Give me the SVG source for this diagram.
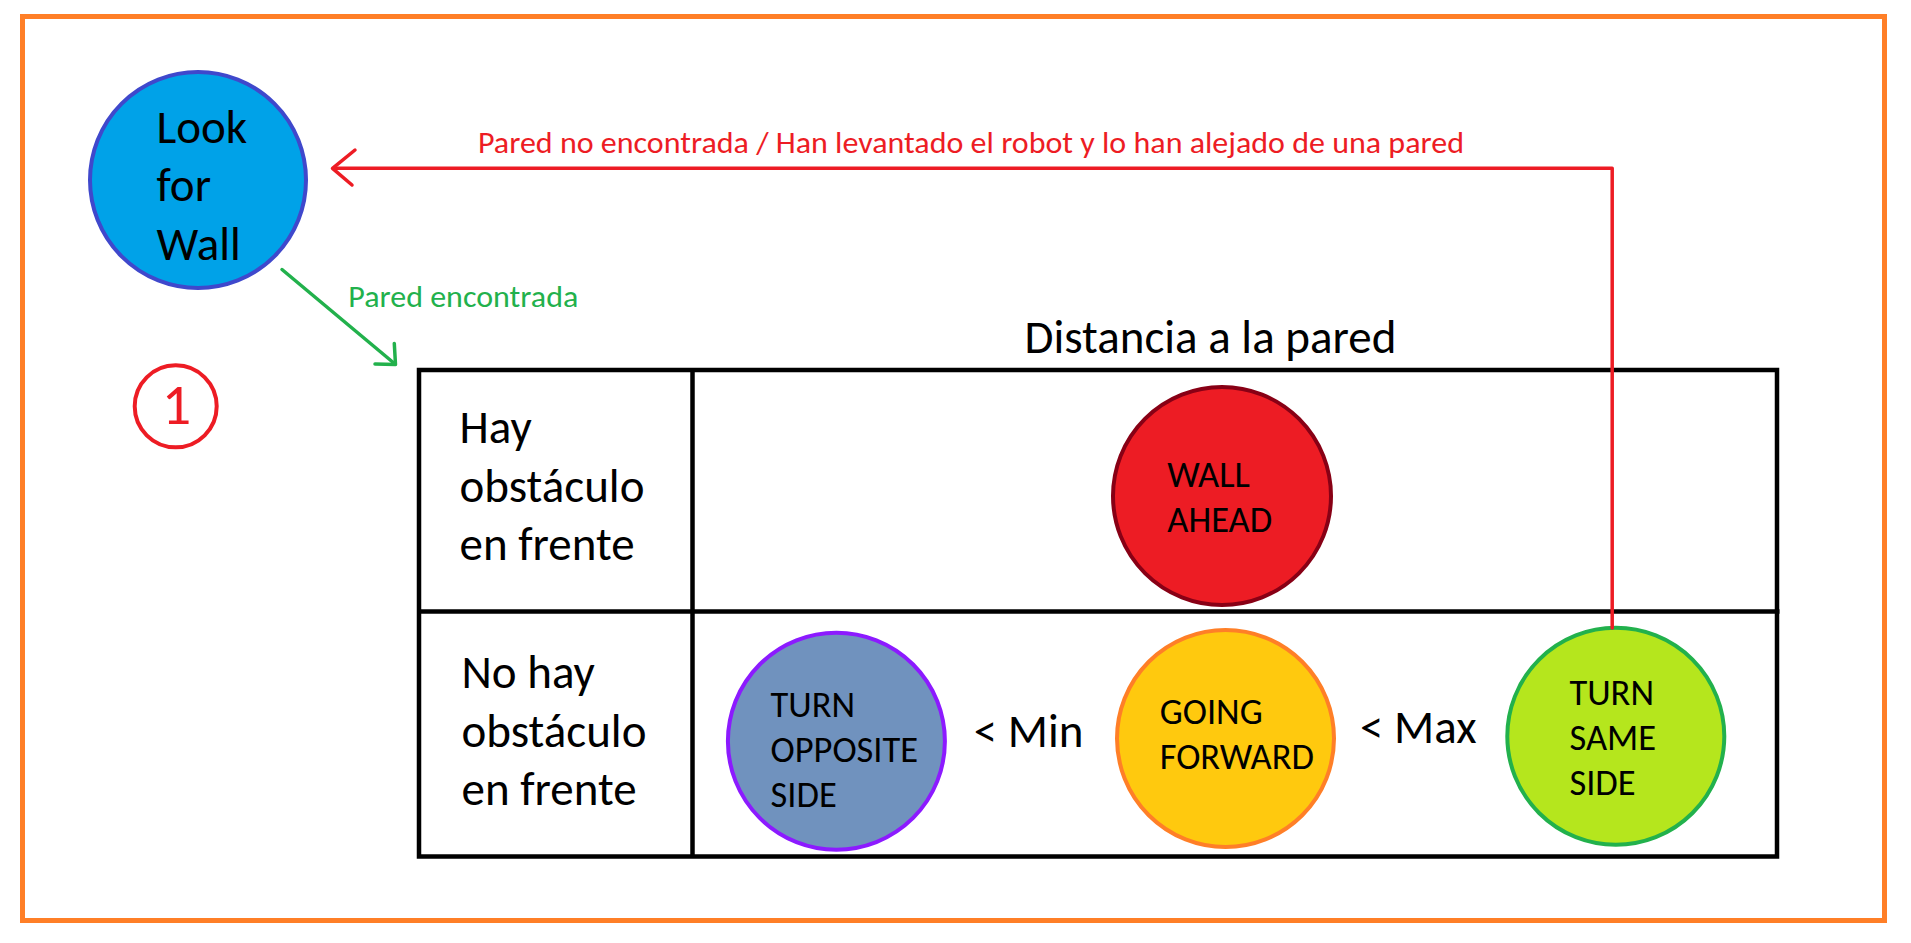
<svg xmlns="http://www.w3.org/2000/svg" width="1911" height="943" viewBox="0 0 1911 943">
<style>
  text { font-family: Carlito, Lato, "Open Sans", sans-serif; fill: #000; }
  .big { font-size: 47px; }
  .node { font-size: 36.5px; }
  .lbl { font-size: 30px; }
  .tbl { fill: none; stroke: #000; stroke-width: 4.5; }
  .circ { stroke-width: 4; }
</style>
<rect x="0" y="0" width="1911" height="943" fill="#fff"/>
<rect id="frame" x="22.5" y="16.5" width="1862" height="904" fill="none" stroke="#FF7F27" stroke-width="5"/>

<g id="table">
  <rect class="tbl" x="419" y="370" width="1358" height="486.5"/>
  <line class="tbl" x1="692.5" y1="370" x2="692.5" y2="856.5"/>
  <line class="tbl" x1="419" y1="611.5" x2="1779.5" y2="611.5"/>
  <text class="big" x="1024.5" y="352.5">Distancia a la pared</text>
  <text class="big" x="459.5" y="443.3">Hay</text>
  <text class="big" x="459.5" y="501.7">obstáculo</text>
  <text class="big" x="459.5" y="560">en frente</text>
  <text class="big" x="461.5" y="688.3">No hay</text>
  <text class="big" x="461.5" y="746.7">obstáculo</text>
  <text class="big" x="461.5" y="805">en frente</text>
  <text class="big" x="973.7" y="746.7">&lt; Min</text>
  <text class="big" x="1360" y="743.3">&lt; Max</text>
</g>

<g id="look-for-wall">
  <circle class="circ" cx="198" cy="180" r="108" fill="#00A2E8" stroke="#3F48CC"/>
  <text class="big" x="156.5" y="142.7">Look</text>
  <text class="big" x="156.5" y="200.7">for</text>
  <text class="big" x="156.5" y="260">Wall</text>
</g>

<g id="step-number">
  <circle cx="175.7" cy="406.3" r="41" fill="none" stroke="#ED1C24" stroke-width="4"/>
  <text x="176.5" y="424" text-anchor="middle" style="font-size:58px; fill:#ED1C24">1</text>
</g>

<g id="wall-ahead">
  <circle class="circ" cx="1222" cy="496" r="109" fill="#ED1C24" stroke="#880015"/>
  <text class="node" x="1167.3" y="487.3">WALL</text>
  <text class="node" x="1167.3" y="532.3">AHEAD</text>
</g>

<g id="turn-opposite-side">
  <circle class="circ" cx="836.4" cy="741.2" r="108.5" fill="#7092BE" stroke="#8C1AFF"/>
  <text class="node" x="770.5" y="716.7">TURN</text>
  <text class="node" x="770.5" y="761.7">OPPOSITE</text>
  <text class="node" x="770.5" y="806.7">SIDE</text>
</g>

<g id="going-forward">
  <circle class="circ" cx="1225.5" cy="738.5" r="108.5" fill="#FFC90E" stroke="#FF7F27"/>
  <text class="node" x="1159.7" y="724">GOING</text>
  <text class="node" x="1159.7" y="769.3">FORWARD</text>
</g>

<g id="turn-same-side">
  <circle class="circ" cx="1615.8" cy="736.3" r="108.5" fill="#B5E61D" stroke="#22B14C"/>
  <text class="node" x="1569.4" y="705">TURN</text>
  <text class="node" x="1569.4" y="750">SAME</text>
  <text class="node" x="1569.4" y="795">SIDE</text>
</g>

<g id="connectors" fill="none" stroke-linecap="round" stroke-linejoin="round">
  <path d="M1612.2,628 V168.3 H334" stroke="#ED1C24" stroke-width="3.5"/>
  <polyline points="355,150 332.5,168.3 352,185" stroke="#ED1C24" stroke-width="3.5"/>
  <line x1="282" y1="269.5" x2="395" y2="364" stroke="#22B14C" stroke-width="3.5"/>
  <polyline points="394.3,343.5 395.5,364.5 375,364" stroke="#22B14C" stroke-width="3.5"/>
  <text class="lbl" x="478" y="152.7" textLength="986" lengthAdjust="spacingAndGlyphs" style="fill:#ED1C24; stroke:none">Pared no encontrada / Han levantado el robot y lo han alejado de una pared</text>
  <text class="lbl" x="348.3" y="306.7" textLength="230" lengthAdjust="spacingAndGlyphs" style="fill:#22B14C; stroke:none">Pared encontrada</text>
</g>
</svg>
